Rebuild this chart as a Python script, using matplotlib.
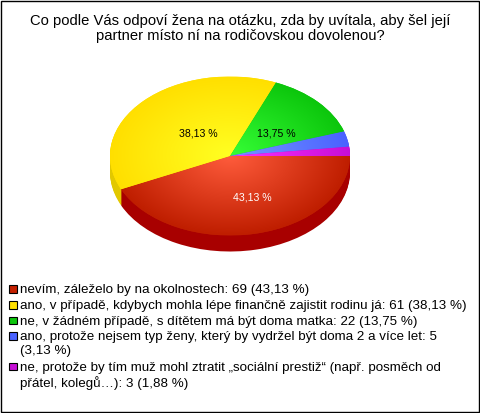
import numpy as np
import matplotlib
matplotlib.use('Agg')
import matplotlib.pyplot as plt
from matplotlib.colors import LinearSegmentedColormap
from matplotlib.patches import Rectangle

plt.rcParams['font.family'] = ['Liberation Sans', 'DejaVu Sans']

W, H = 480, 413

title = 'Co podle Vás odpoví žena na otázku, zda by uvítala, aby šel její\npartner místo ní na rodičovskou dovolenou?'
counts = [69, 61, 22, 5, 3]
percents = ['43,13', '38,13', '13,75', '3,13', '1,88']
legend_lines = [
    'nevím, záleželo by na okolnostech: 69 (43,13 %)',
    'ano, v případě, kdybych mohla lépe finančně zajistit rodinu já: 61 (38,13 %)',
    'ne, v žádném případě, s dítětem má být doma matka: 22 (13,75 %)',
    'ano, protože nejsem typ ženy, který by vydržel být doma 2 a více let: 5\n(3,13 %)',
    'ne, protože by tím muž mohl ztratit „sociální prestiž“ (např. posměch od\npřátel, kolegů…): 3 (1,88 %)',
]
# gradient colours, middle of the pie -> rim
inner = ['#ff5c3c', '#ffff22', '#36ff36', '#7596ff', '#ff30ff']
outer = ['#bf1e00', '#ffdf00', '#0cc60c', '#4a62ff', '#c60fd6']
swatch = ['#c42000', '#ffe000', '#0cc60c', '#4a62ff', '#c60fd6']
side = ['#a80000', '#e2c800', '#0a9a0a', '#3040c0', '#900aa0']

fig = plt.figure(figsize=(W / 100, H / 100), dpi=100, facecolor='white')

# pie box in pixels: 240 wide, top face 159 high, 16 deep
rx, ry, depth = 120, 79.5, 16
ax = fig.add_axes([110 / W, (413 - 156 - ry - depth) / H, 2 * rx / W, (2 * ry + depth) / H])

# side wall, stacked copies going down
for d in range(depth, 0, -1):
    ax.pie(counts, colors=side, startangle=0, counterclock=False, radius=1,
           center=(0, -d / ry), frame=False, normalize=True,
           wedgeprops={'linewidth': 0})

wedges, _ = ax.pie(counts, colors=outer, startangle=0, counterclock=False, radius=1,
                   center=(0, 0), frame=False, wedgeprops={'linewidth': 0})

# radial shading, clipped to each slice
yy, xx = np.mgrid[-1:1:400j, -1:1:400j]
rr = np.clip(np.hypot(xx, yy), 0, 1)
for w, c0, c1 in zip(wedges, inner, outer):
    cmap = LinearSegmentedColormap.from_list('s', [c0, c1])
    im = ax.imshow(rr, extent=(-1, 1, -1, 1), origin='lower', cmap=cmap, vmin=0, vmax=1,
                   aspect='auto', interpolation='bilinear', zorder=w.get_zorder() + 0.5)
    im.set_clip_path(w)

ax.set_aspect('auto')
ax.set_xlim(-1, 1)
ax.set_ylim(-1 - depth / ry, 1)
ax.axis('off')

label_xy = [(0.19, -0.52), (-0.26, 0.28), (0.39, 0.28)]
label_col = ['white', 'black', 'black']
for p, xy, c in zip(percents, label_xy, label_col):
    ax.text(xy[0], xy[1], p + ' %', color=c, fontsize=7.6, ha='center', va='center', zorder=10)

fig.text(240 / W, 1 - 28.5 / H, title, ha='center', va='center', fontsize=10.65,
         linespacing=1.07, color='black')

# legend
legend_y = [289, 305, 320.5, 336, 366.5]
for y, line, col in zip(legend_y, legend_lines, swatch):
    fig.add_artist(Rectangle((9 / W, 1 - (y + 3.7) / H), 7.5 / W, 7.5 / H, transform=fig.transFigure,
                             facecolor=col, edgecolor='black', linewidth=0.8))
    fig.text(20 / W, 1 - (y - 5) / H, line, ha='left', va='top', fontsize=9.65,
             linespacing=1.2, color='black')

# outer frame
fig.add_artist(Rectangle((0.5 / W, 1.5 / H), (W - 1.5) / W, (H - 2) / H, transform=fig.transFigure,
                         facecolor='none', edgecolor='black', linewidth=1.0))

fig.savefig('out.png', dpi=100)
